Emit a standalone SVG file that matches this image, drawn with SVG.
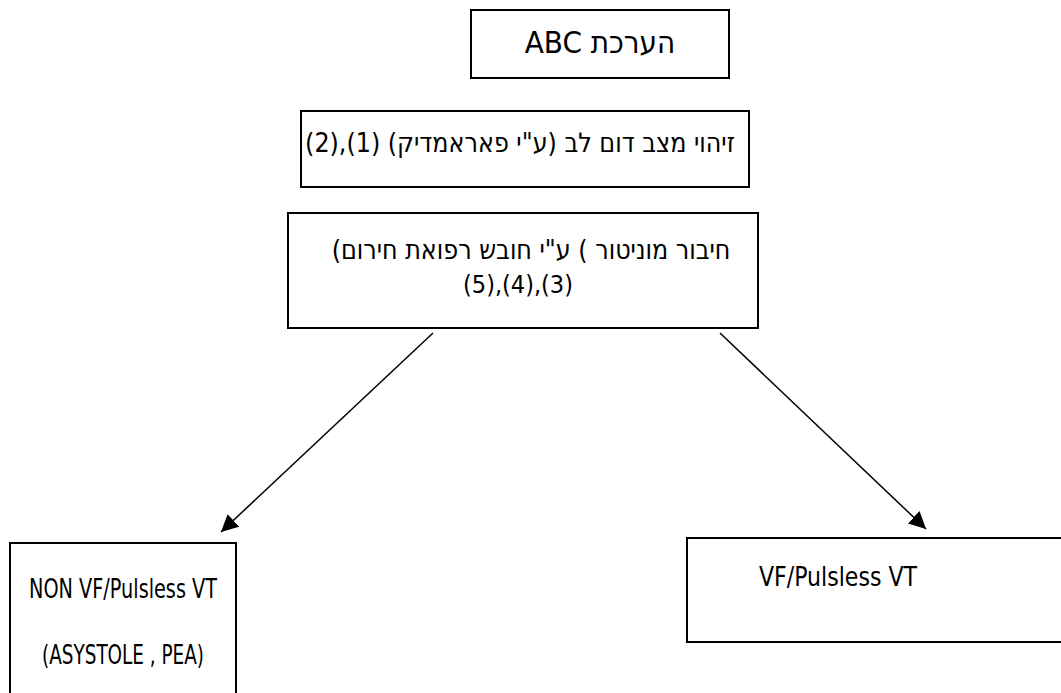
<svg xmlns="http://www.w3.org/2000/svg" width="1061" height="693" viewBox="0 0 1061 693">
<defs>
<marker id="arr" viewBox="0 0 10 10" refX="10" refY="5" markerWidth="17" markerHeight="17" markerUnits="userSpaceOnUse" orient="auto">
<path d="M0,0 L10,5 L0,10 z" fill="#000"/>
</marker>
<style>
.box{fill:#fff;stroke:#000;stroke-width:2}
.t{font-family:"DejaVu Sans Condensed","DejaVu Sans",sans-serif;font-stretch:condensed;font-size:25px;fill:#000}
.he{direction:rtl;unicode-bidi:embed}
.c{stroke:#000;stroke-width:1.5;fill:none}
</style>
</defs>
<rect width="1061" height="693" fill="#fff"/>
<g id="n1">
<rect class="box" x="471" y="10" width="258" height="68"/>
<text class="t he" x="600" y="53" text-anchor="middle" style="font-size:31px">הערכת ABC</text>
</g>
<g id="n2">
<rect class="box" x="301" y="111" width="448" height="76"/>
<text class="t he" x="520" y="152" text-anchor="middle" style="font-size:26.5px">זיהוי מצב דום לב (ע"י פאראמדיק) (1),(2)</text>
</g>
<g id="n3">
<rect class="box" x="288" y="213" width="470" height="115"/>
<text class="t he" x="531" y="259" text-anchor="middle" style="font-size:26.5px">חיבור מוניטור ) ע"י חובש רפואת חירום)</text>
<text class="t he" x="518" y="293" text-anchor="middle">(3),(4),(5)</text>
</g>
<g id="n4">
<rect class="box" x="10" y="543" width="226" height="160"/>
<text class="t" x="123" y="598" text-anchor="middle" textLength="188" lengthAdjust="spacingAndGlyphs" style="font-size:27px">NON VF/Pulsless VT</text>
<text class="t" x="123" y="664" text-anchor="middle" textLength="162" lengthAdjust="spacingAndGlyphs" style="font-size:27px">(ASYSTOLE , PEA)</text>
</g>
<g id="n5">
<rect class="box" x="687" y="538" width="380" height="104"/>
<text class="t" x="838" y="586" text-anchor="middle" textLength="158" lengthAdjust="spacingAndGlyphs" style="font-size:27px">VF/Pulsless VT</text>
</g>
<g id="connectors">
<line class="c" x1="433" y1="333" x2="221" y2="532" marker-end="url(#arr)"/>
<line class="c" x1="720" y1="333" x2="926" y2="529" marker-end="url(#arr)"/>
</g>
</svg>
